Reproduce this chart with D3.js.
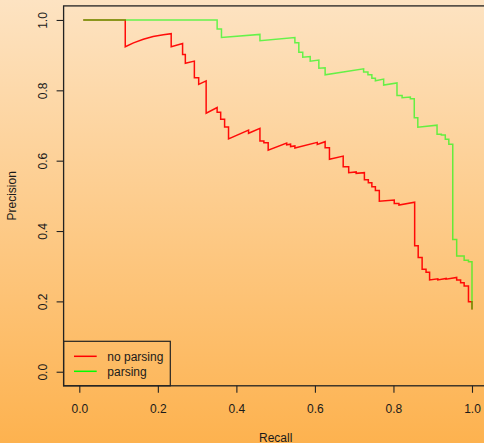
<!DOCTYPE html>
<html>
<head>
<meta charset="utf-8">
<script src="https://cdn.jsdelivr.net/npm/d3@7"></script>
<style>
  html, body { margin: 0; padding: 0; }
  body { width: 484px; height: 443px; overflow: hidden; }
  text { font-family: "Liberation Sans", Arial, sans-serif; font-size: 12px; fill: #1a1a1a; }
</style>
</head>
<body>
<div id="chart"></div>
<script>
// Precision / recall curves, vertices
const noParsingRecall = [
  0.010, 0.117, 0.117, 0.138, 0.163, 0.188, 0.214, 0.234, 0.234, 0.263,
  0.263, 0.270, 0.270, 0.293, 0.293, 0.304, 0.304, 0.323, 0.323, 0.351,
  0.351, 0.360, 0.360, 0.370, 0.370, 0.380, 0.380, 0.431, 0.431, 0.460,
  0.460, 0.470, 0.470, 0.481, 0.481, 0.528, 0.528, 0.538, 0.538, 0.549,
  0.549, 0.606, 0.606, 0.626, 0.626, 0.637, 0.637, 0.672, 0.672, 0.686,
  0.686, 0.705, 0.705, 0.726, 0.726, 0.736, 0.736, 0.745, 0.745, 0.754,
  0.754, 0.764, 0.764, 0.802, 0.802, 0.814, 0.814, 0.854, 0.854, 0.863,
  0.863, 0.873, 0.873, 0.883, 0.883, 0.892, 0.892, 0.913, 0.913, 0.934,
  0.934, 0.961, 0.961, 0.971, 0.971, 0.980, 0.980, 0.991, 0.991, 1.000,
  1.000
];
const noParsingPrecision = [
  1.000, 1.000, 0.924, 0.935, 0.945, 0.953, 0.958, 0.961, 0.924, 0.933,
  0.902, 0.902, 0.877, 0.883, 0.836, 0.836, 0.817, 0.827, 0.735, 0.751,
  0.738, 0.738, 0.718, 0.718, 0.696, 0.696, 0.662, 0.687, 0.678, 0.692,
  0.656, 0.656, 0.651, 0.651, 0.630, 0.650, 0.645, 0.647, 0.640, 0.642,
  0.636, 0.652, 0.646, 0.654, 0.637, 0.637, 0.604, 0.613, 0.583, 0.583,
  0.566, 0.568, 0.564, 0.566, 0.546, 0.546, 0.537, 0.537, 0.526, 0.526,
  0.515, 0.515, 0.485, 0.488, 0.478, 0.478, 0.474, 0.482, 0.358, 0.358,
  0.325, 0.325, 0.291, 0.291, 0.283, 0.283, 0.261, 0.264, 0.261, 0.265,
  0.263, 0.268, 0.261, 0.261, 0.253, 0.253, 0.244, 0.244, 0.199, 0.199,
  0.177
];

const parsingRecall = [
  0.010, 0.351, 0.351, 0.362, 0.362, 0.460, 0.460, 0.549, 0.549, 0.559,
  0.559, 0.569, 0.569, 0.588, 0.588, 0.610, 0.610, 0.626, 0.626, 0.724,
  0.724, 0.735, 0.735, 0.745, 0.745, 0.754, 0.754, 0.775, 0.775, 0.809,
  0.809, 0.822, 0.822, 0.843, 0.843, 0.853, 0.853, 0.862, 0.862, 0.911,
  0.911, 0.922, 0.922, 0.932, 0.932, 0.941, 0.941, 0.951, 0.951, 0.961,
  0.961, 0.980, 0.980, 0.991, 0.991, 1.000, 1.000
];
const parsingPrecision = [
  1.000, 1.000, 0.974, 0.974, 0.950, 0.959, 0.941, 0.950, 0.935, 0.935,
  0.908, 0.908, 0.894, 0.896, 0.883, 0.886, 0.863, 0.864, 0.844, 0.861,
  0.852, 0.852, 0.844, 0.844, 0.834, 0.834, 0.827, 0.832, 0.815, 0.821,
  0.785, 0.785, 0.779, 0.781, 0.776, 0.776, 0.722, 0.722, 0.695, 0.701,
  0.675, 0.675, 0.673, 0.673, 0.661, 0.661, 0.647, 0.647, 0.376, 0.376,
  0.329, 0.329, 0.317, 0.317, 0.313, 0.313, 0.177
];

const seriesNames = ["no parsing", "parsing"];
const seriesColors = ["#ff0000", "#00ff00"];
const xTicks = [0, 0.2, 0.4, 0.6, 0.8, 1.0];
const yTicks = [0, 0.2, 0.4, 0.6, 0.8, 1.0];
const xLabel = "Recall";
const yLabel = "Precision";

const width = 484, height = 443;
// plot region (R style: axes padded 4% past the data range)
const plot = { left: 63.6, right: 487.7, top: 5.9, bottom: 385.8 };

const svg = d3.select("#chart").append("svg")
  .attr("width", width)
  .attr("height", height);

const grad = svg.append("defs").append("linearGradient")
  .attr("id", "bg")
  .attr("x1", 0).attr("y1", 0).attr("x2", 0).attr("y2", 1);
grad.append("stop").attr("offset", "0%").attr("stop-color", "#fde3c2");
grad.append("stop").attr("offset", "100%").attr("stop-color", "#fdb24f");

svg.append("rect")
  .attr("width", width)
  .attr("height", height)
  .attr("fill", "url(#bg)");

const x = d3.scaleLinear().domain([-0.04, 1.04]).range([plot.left, plot.right]);
const y = d3.scaleLinear().domain([-0.04, 1.04]).range([plot.bottom, plot.top]);

const series = [
  { name: seriesNames[0], color: seriesColors[0], opacity: 0.95,
    values: noParsingRecall.map((r, i) => ({ r: r, p: noParsingPrecision[i] })) },
  { name: seriesNames[1], color: seriesColors[1], opacity: 0.6,
    values: parsingRecall.map((r, i) => ({ r: r, p: parsingPrecision[i] })) }
];

const line = d3.line()
  .x(d => x(d.r))
  .y(d => y(d.p));

svg.append("g")
  .selectAll("path")
  .data(series)
  .join("path")
  .attr("d", d => line(d.values))
  .attr("fill", "none")
  .attr("stroke", d => d.color)
  .attr("stroke-opacity", d => d.opacity)
  .attr("stroke-width", 1.5)
  .attr("stroke-linejoin", "miter");

// axes
const xAxisG = svg.append("g")
  .attr("transform", `translate(0,${plot.bottom})`)
  .call(d3.axisBottom(x).tickValues(xTicks).tickSize(7).tickPadding(11.5).tickFormat(d3.format(".1f")));
xAxisG.select(".domain").remove();

const yAxisG = svg.append("g")
  .attr("transform", `translate(${plot.left},0)`)
  .call(d3.axisLeft(y).tickValues(yTicks).tickSize(7).tickFormat(d3.format(".1f")));
yAxisG.select(".domain").remove();
yAxisG.selectAll(".tick text")
  .attr("x", 0)
  .attr("dy", 0)
  .attr("text-anchor", "middle")
  .attr("transform", "translate(-17,0) rotate(-90)");

svg.selectAll(".tick line")
  .attr("stroke", "#222")
  .attr("stroke-width", 1.1);

// box
svg.append("rect")
  .attr("x", plot.left)
  .attr("y", plot.top)
  .attr("width", plot.right - plot.left)
  .attr("height", plot.bottom - plot.top)
  .attr("fill", "none")
  .attr("stroke", "#222")
  .attr("stroke-width", 1.3);

svg.append("text")
  .attr("x", (plot.left + plot.right) / 2)
  .attr("y", 441.5)
  .attr("text-anchor", "middle")
  .text(xLabel);

svg.append("text")
  .attr("transform", `translate(16,${(plot.top + plot.bottom) / 2}) rotate(-90)`)
  .attr("text-anchor", "middle")
  .text(yLabel);

// legend
const legend = svg.append("g");
legend.append("rect")
  .attr("x", plot.left)
  .attr("y", 341.3)
  .attr("width", 170.3 - plot.left)
  .attr("height", plot.bottom - 341.3)
  .attr("fill", "none")
  .attr("stroke", "#222")
  .attr("stroke-width", 1.2);

const items = legend.selectAll("g.item")
  .data(series)
  .join("g")
  .attr("class", "item")
  .attr("transform", (d, i) => `translate(0,${356.3 + i * 15})`);

items.append("line")
  .attr("x1", 74).attr("x2", 96.7)
  .attr("stroke", d => d.color)
  .attr("stroke-width", 1.5);

items.append("text")
  .attr("x", 107.3)
  .attr("y", 4.2)
  .text(d => d.name);
</script>
</body>
</html>
